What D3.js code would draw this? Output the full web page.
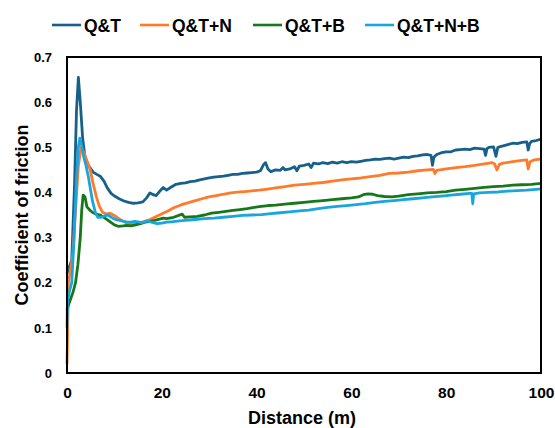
<!DOCTYPE html>
<html>
<head>
<meta charset="utf-8">
<script src="https://cdn.jsdelivr.net/npm/d3@7"></script>
<style>
  body { margin: 0; background: #fff; }
  svg text { font-family: "Liberation Sans", Arial, sans-serif; font-weight: bold; fill: #000; }
</style>
</head>
<body>
<svg id="chart"></svg>
<script>
// series names + colours
const seriesNames = ["Q&T", "Q&T+N", "Q&T+B", "Q&T+N+B"];
const seriesColors = ["#17608a", "#ff7b2c", "#17781a", "#1aa5de"];

// Q&T
const distQT = [0, 0.3, 1.0, 1.6, 2.0, 2.4, 2.8, 3.3, 3.8, 4.5, 5.5, 6.3, 7.0, 7.8, 8.5, 9.3, 10, 11, 12, 13, 14, 15, 16, 16.8, 17.5, 18.2, 18.8, 19.5, 20.3, 21, 22, 23, 24, 25, 26, 27, 28, 29, 30, 31, 32, 33, 34, 35, 36, 37, 38, 39, 40, 40.8, 41.5, 41.9, 42.4, 43, 44, 45, 45.6, 46, 47, 48, 48.5, 49, 50, 51, 51.5, 52, 53, 54, 55, 56, 57, 58, 59, 60, 61, 62, 63, 64, 65, 66, 67, 68, 69, 70, 71, 72, 73, 74, 75, 76, 76.8, 77.1, 77.4, 78, 79, 80, 81, 82, 83, 84, 85, 86, 87, 88, 88.3, 88.6, 89, 90, 90.5, 90.9, 92, 93, 94, 95, 96, 97, 97.3, 97.6, 98, 99, 100];
const cofQT = [0.22, 0.23, 0.25, 0.42, 0.58, 0.655, 0.60, 0.52, 0.478, 0.46, 0.445, 0.44, 0.436, 0.425, 0.41, 0.398, 0.392, 0.386, 0.381, 0.378, 0.376, 0.377, 0.379, 0.388, 0.399, 0.395, 0.393, 0.402, 0.411, 0.405, 0.412, 0.418, 0.42, 0.421, 0.424, 0.425, 0.428, 0.43, 0.432, 0.434, 0.435, 0.436, 0.438, 0.44, 0.44, 0.442, 0.443, 0.444, 0.445, 0.448, 0.462, 0.466, 0.452, 0.446, 0.45, 0.449, 0.455, 0.45, 0.452, 0.457, 0.448, 0.458, 0.46, 0.463, 0.455, 0.465, 0.463, 0.466, 0.464, 0.467, 0.465, 0.468, 0.466, 0.468, 0.467, 0.469, 0.471, 0.472, 0.474, 0.473, 0.475, 0.476, 0.474, 0.476, 0.478, 0.477, 0.48, 0.481, 0.483, 0.484, 0.482, 0.46, 0.478, 0.484, 0.488, 0.49, 0.49, 0.494, 0.495, 0.496, 0.495, 0.498, 0.497, 0.496, 0.482, 0.497, 0.5, 0.501, 0.48, 0.5, 0.503, 0.506, 0.509, 0.508, 0.511, 0.512, 0.494, 0.508, 0.513, 0.515, 0.518];

// Q&T+N
const distN = [0, 0.15, 0.3, 0.6, 1.2, 1.8, 2.4, 3.0, 3.5, 4.2, 4.9, 5.5, 6.2, 6.8, 7.5, 8.3, 9.1, 9.8, 10.8, 11.7, 12.6, 13.5, 14.5, 15.5, 16.5, 17.5, 18.5, 19.5, 20.5, 21.5, 22.5, 23.5, 24.5, 25.5, 26.5, 27.5, 28.5, 29.5, 30.5, 31.5, 32.5, 33.5, 34.5, 35.5, 36.5, 37.5, 38.5, 39.5, 40.5, 42, 44, 46, 48, 50, 52, 54, 56, 58, 60, 62, 64, 66, 68, 70, 72, 74, 76, 77.3, 77.6, 78, 80, 82, 84, 86, 88, 89.7, 90.2, 90.7, 91.2, 92, 94, 96, 97, 97.3, 97.7, 98.5, 100];
const cofN = [0.02, 0.1, 0.2, 0.22, 0.26, 0.36, 0.46, 0.5, 0.49, 0.47, 0.45, 0.42, 0.39, 0.37, 0.356, 0.352, 0.354, 0.35, 0.343, 0.337, 0.332, 0.33, 0.33, 0.333, 0.336, 0.34, 0.345, 0.35, 0.355, 0.36, 0.366, 0.37, 0.374, 0.377, 0.38, 0.383, 0.386, 0.389, 0.391, 0.393, 0.395, 0.397, 0.399, 0.4, 0.401, 0.402, 0.403, 0.404, 0.405, 0.407, 0.41, 0.413, 0.416, 0.418, 0.42, 0.422, 0.425, 0.428, 0.43, 0.432, 0.435, 0.438, 0.442, 0.443, 0.445, 0.448, 0.45, 0.451, 0.442, 0.449, 0.452, 0.455, 0.457, 0.46, 0.463, 0.466, 0.463, 0.45, 0.462, 0.465, 0.468, 0.471, 0.472, 0.452, 0.468, 0.472, 0.474];

// Q&T+B
const distB = [0, 0.3, 0.8, 1.3, 1.8, 2.3, 2.8, 3.1, 3.4, 3.8, 4.2, 4.9, 5.5, 6.2, 7, 8, 9.1, 10, 10.8, 11.8, 12.6, 13.5, 14.5, 15.5, 16.5, 17.5, 18.5, 19.5, 20.3, 21, 22.5, 24.3, 24.8, 26, 27.5, 29, 30.5, 32, 33.5, 35, 36.5, 38, 39.5, 41, 42.5, 44, 46, 48, 50, 52, 54, 56, 58, 60, 61.5, 62.5, 63.5, 64.5, 65.5, 67, 68.5, 70, 72, 74, 76, 78, 80, 82, 84, 86, 88, 90, 92, 94, 96, 98, 100];
const cofB = [0.14, 0.15, 0.165, 0.18, 0.2, 0.24, 0.3, 0.36, 0.394, 0.39, 0.368, 0.36, 0.355, 0.352, 0.35, 0.343, 0.335, 0.328, 0.325, 0.326, 0.327, 0.326, 0.328, 0.331, 0.334, 0.336, 0.338, 0.341, 0.343, 0.342, 0.345, 0.352, 0.345, 0.346, 0.347, 0.35, 0.354, 0.356, 0.358, 0.36, 0.362, 0.364, 0.367, 0.369, 0.371, 0.372, 0.374, 0.376, 0.378, 0.38, 0.382, 0.384, 0.386, 0.388, 0.39, 0.395, 0.397, 0.396, 0.393, 0.391, 0.39, 0.392, 0.395, 0.397, 0.399, 0.4, 0.402, 0.405, 0.407, 0.409, 0.411, 0.413, 0.414, 0.416, 0.417, 0.418, 0.42];

// Q&T+N+B
const distNB = [0, 0.1, 0.5, 1.0, 1.5, 2.0, 2.4, 2.7, 3.1, 3.5, 4.0, 4.5, 4.9, 5.4, 6.0, 6.5, 7.2, 8.0, 8.6, 9.2, 9.8, 10.6, 11.5, 12.5, 13.5, 14.3, 15, 15.8, 16.9, 17.8, 19, 20, 21, 22, 23.8, 25, 27, 29, 31, 33, 35, 37, 39, 41, 43, 45, 47, 49, 51, 53, 55, 57, 59, 61, 63, 65, 67, 69, 71, 73, 75, 77, 79, 81, 83, 85, 85.4, 85.6, 85.8, 87, 89, 91, 93, 95, 97, 99, 100];
const cofNB = [0.1, 0.16, 0.18, 0.2, 0.3, 0.43, 0.5, 0.52, 0.505, 0.48, 0.46, 0.435, 0.41, 0.38, 0.355, 0.345, 0.345, 0.348, 0.35, 0.346, 0.342, 0.339, 0.337, 0.335, 0.334, 0.336, 0.335, 0.333, 0.337, 0.334, 0.331, 0.332, 0.334, 0.335, 0.337, 0.338, 0.34, 0.342, 0.343, 0.345, 0.347, 0.349, 0.35, 0.351, 0.353, 0.355, 0.357, 0.359, 0.361, 0.364, 0.367, 0.369, 0.371, 0.373, 0.375, 0.378, 0.38, 0.382, 0.384, 0.386, 0.388, 0.39, 0.392, 0.394, 0.396, 0.398, 0.398, 0.375, 0.397, 0.399, 0.4, 0.401, 0.403, 0.404, 0.405, 0.407, 0.408];

const xTicks = [0, 20, 40, 60, 80, 100];
const yTicks = [0, 0.1, 0.2, 0.3, 0.4, 0.5, 0.6, 0.7];

const allDist = [distQT, distN, distB, distNB];
const allCof = [cofQT, cofN, cofB, cofNB];

const W = 555, H = 428;
const margin = { top: 57, right: 14, bottom: 55, left: 67 };
const width = W - margin.left - margin.right;
const height = H - margin.top - margin.bottom;

const svg = d3.select("#chart").attr("width", W).attr("height", H);

const x = d3.scaleLinear().domain([0, 100]).range([0, width]);
const y = d3.scaleLinear().domain([0, 0.7]).range([height, 0]);

const g = svg.append("g").attr("transform", `translate(${margin.left},${margin.top})`);

// lines
const line = d3.line().x(d => x(d[0])).y(d => y(d[1]));
allDist.forEach((dist, i) => {
    const pts = dist.map((d, j) => [d, allCof[i][j]]);
    g.append("path")
        .datum(pts)
        .attr("fill", "none")
        .attr("stroke", seriesColors[i])
        .attr("stroke-width", 2.8)
        .attr("stroke-linejoin", "round")
        .attr("d", line);
});

// frame
g.append("rect")
    .attr("x", 0).attr("y", 0)
    .attr("width", width).attr("height", height)
    .attr("fill", "none")
    .attr("stroke", "#000")
    .attr("stroke-width", 2);

// axes (labels only, no tick marks)
const xAxis = g.append("g")
    .attr("transform", `translate(0,${height})`)
    .call(d3.axisBottom(x).tickValues(xTicks).tickSize(0).tickPadding(14).tickFormat(d3.format("d")));
xAxis.select(".domain").remove();
xAxis.selectAll("text").style("font-size", "15.5px");

const yAxis = g.append("g")
    .call(d3.axisLeft(y).tickValues(yTicks).tickSize(0).tickPadding(15).tickFormat(d => d === 0 ? "0" : d3.format(".1f")(d)));
yAxis.select(".domain").remove();
yAxis.selectAll("text").style("font-size", "13px");

// axis titles
svg.append("text")
    .attr("x", margin.left + width / 2 - 2)
    .attr("y", 424)
    .attr("text-anchor", "middle")
    .style("font-size", "18px")
    .text("Distance (m)");

svg.append("text")
    .attr("transform", `translate(28,${margin.top + height / 2}) rotate(-90)`)
    .attr("text-anchor", "middle")
    .style("font-size", "18px")
    .text("Coefficient of friction");

// legend
const legendX = [52, 140, 253, 365];
const legend = svg.append("g");
seriesNames.forEach((name, i) => {
    legend.append("line")
        .attr("x1", legendX[i]).attr("x2", legendX[i] + 29)
        .attr("y1", 25).attr("y2", 25)
        .attr("stroke", seriesColors[i])
        .attr("stroke-width", 2.6);
    legend.append("text")
        .attr("x", legendX[i] + 32)
        .attr("y", 31.5)
        .style("font-size", "17.5px")
        .text(name);
});
</script>
</body>
</html>
